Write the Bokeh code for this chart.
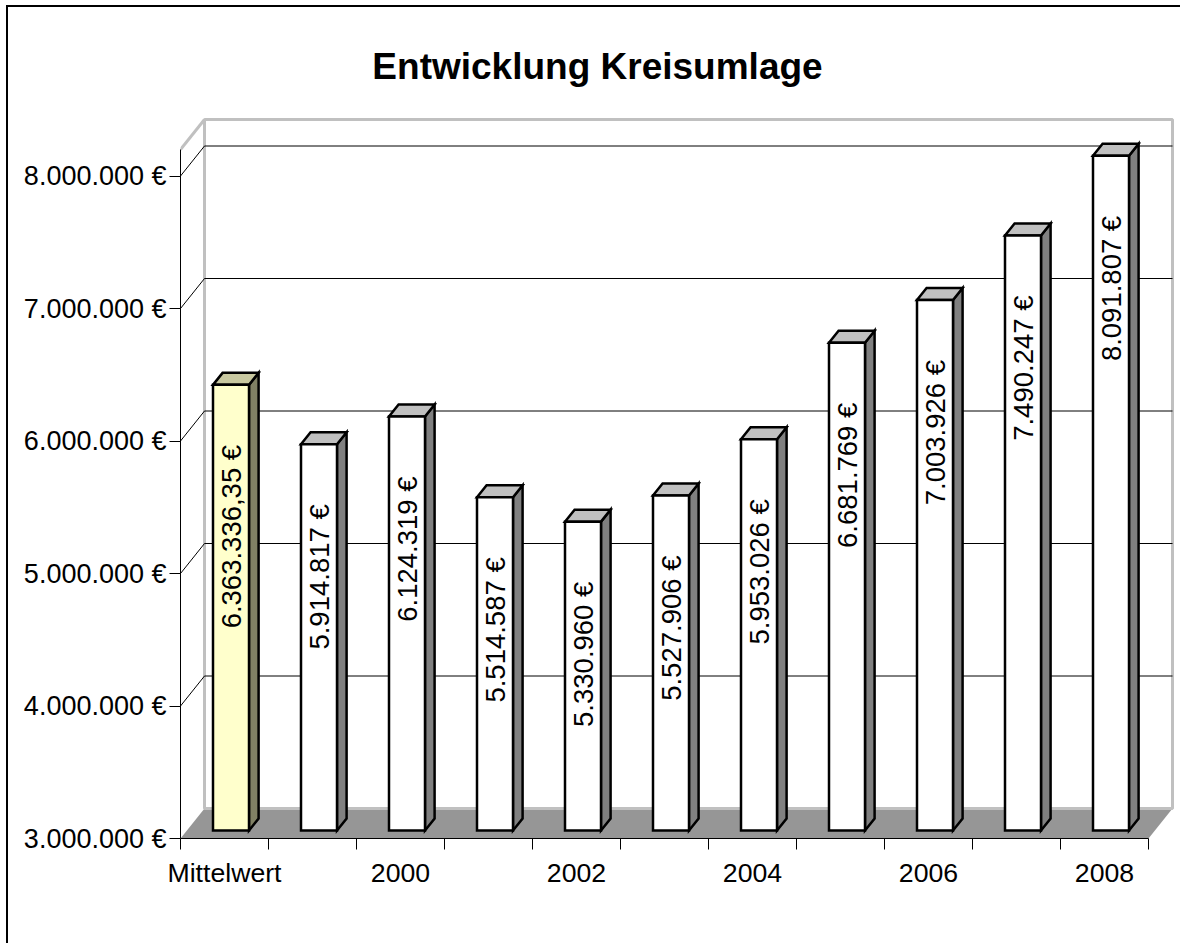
import math
from bokeh.plotting import figure
from bokeh.layouts import column
from bokeh.models import FixedTicker, CustomJSTickFormatter, Label, Range1d, LinearAxis, ColumnDataSource
from bokeh.core.properties import value
from bokeh.embed import file_html
from bokeh.resources import INLINE

# ---------------- data ----------------
categories = ["Mittelwert", "1999", "2000", "2001", "2002", "2003",
              "2004", "2005", "2006", "2007", "2008"]
values = [6363336.35, 5914817, 6124319, 5514587, 5330960, 5527906,
          5953026, 6681769, 7003926, 7490247, 8091807]
x_tick_labels = ["Mittelwert", "", "2000", "", "2002", "", "2004", "", "2006", "", "2008"]
y_ticks = [3000000, 4000000, 5000000, 6000000, 7000000, 8000000]
y_min = 3000000
wall_top = 8200000
title_text = "Entwicklung Kreisumlage"

# ---------------- layout ----------------
CX0, CY0 = 8, 7
W, H = 1172, 936
FRAME_LEFT_PAGE, FRAME_RIGHT_PAGE = 180, 1176
FRAME_TOP_PAGE, FRAME_BOTTOM_PAGE = CY0, 838
BL = FRAME_LEFT_PAGE - CX0
BR = (CX0 + W) - FRAME_RIGHT_PAGE
BT = FRAME_TOP_PAGE - CY0
BB = (CY0 + H) - FRAME_BOTTOM_PAGE
FW = W - BL - BR
FH = H - BT - BB
PX_PER_CAT = 88.0
PX_PER_Y = 132.5 / 1e6
n = len(categories)
x_end = FW / PX_PER_CAT
y_end = y_min + FH / PX_PER_Y


def dx(px):
    return px / PX_PER_CAT


def dy(px):
    return px / PX_PER_Y


FONT = "Liberation Sans"
DXW, DYW = dx(24), dy(30)
OX, OY = dx(6.5), dy(8)
BW = dx(36)
DXB, DYB = dx(9.6), dy(12)

p = figure(width=W, height=H, x_range=Range1d(0, x_end), y_range=Range1d(y_min, y_end),
           output_backend="svg", toolbar_location=None,
           min_border_left=BL, min_border_right=BR, min_border_top=BT, min_border_bottom=BB,
           x_axis_type=None, y_axis_type=None)
p.outline_line_color = None
p.background_fill_color = "white"
p.border_fill_color = "white"

# floor
p.patch(x=[0, n, n + DXW, DXW], y=[y_min, y_min, y_min + DYW, y_min + DYW],
        fill_color="#969696", line_color=None)
# back wall
p.quad(left=[DXW], right=[n + DXW], bottom=[y_min + DYW], top=[wall_top + DYW],
       fill_color="white", fill_alpha=0.0, line_color="#C0C0C0", line_width=3)
p.line(x=[0, DXW], y=[wall_top, wall_top + DYW], line_color="#C0C0C0", line_width=3)

gv = y_ticks[1:]
p.segment(x0=[DXW] * len(gv), x1=[n + DXW] * len(gv),
          y0=[v + DYW for v in gv], y1=[v + DYW for v in gv],
          line_color="black", line_width=1)
p.segment(x0=[0] * len(gv), x1=[DXW] * len(gv),
          y0=gv, y1=[v + DYW for v in gv], line_color="black", line_width=1)

front_fill, top_fill, side_fill = [], [], []
left, right, bottom, top = [], [], [], []
top_xs, top_ys, side_xs, side_ys = [], [], [], []
for i, v in enumerate(values):
    c = i + 0.5 + OX
    l, r = c - BW / 2, c + BW / 2
    b, t = y_min + OY, v + OY
    left.append(l); right.append(r); bottom.append(b); top.append(t)
    top_xs.append([l, r, r + DXB, l + DXB])
    top_ys.append([t, t, t + DYB, t + DYB])
    side_xs.append([r, r + DXB, r + DXB, r])
    side_ys.append([b, b + DYB, t + DYB, t])
    if i == 0:
        front_fill.append("#FFFFCC"); top_fill.append("#C8C8A0"); side_fill.append("#808064")
    else:
        front_fill.append("#FFFFFF"); top_fill.append("#C0C0C0"); side_fill.append("#808080")

p.patches(xs=side_xs, ys=side_ys, fill_color=side_fill, line_color="black", line_width=2.5,
          line_join="miter")
p.patches(xs=top_xs, ys=top_ys, fill_color=top_fill, line_color="black", line_width=2.5,
          line_join="miter")
p.quad(left=left, right=right, bottom=bottom, top=top, fill_color=front_fill,
       line_color="black", line_width=2.5, line_join="miter")


def fmt(v):
    if abs(v - round(v)) > 1e-9:
        s = f"{v:,.2f}"
        s = s.replace(",", "X").replace(".", ",").replace("X", ".")
    else:
        s = f"{int(round(v)):,}".replace(",", ".")
    return s + " €"


lab_src = ColumnDataSource(dict(
    x=[i + 0.5 + OX for i in range(n)],
    y=[v + OY - dy(60) for v in values],
    text=[fmt(v) for v in values]))
p.text(x="x", y="y", text="text", source=lab_src, angle=math.pi / 2,
       text_align="right", text_baseline="middle", text_color="black",
       text_font=value(FONT), text_font_size="27.5px")

yaxis = LinearAxis(ticker=FixedTicker(ticks=y_ticks),
                   formatter=CustomJSTickFormatter(code=r"""
const s = Math.round(tick).toString().replace(/\B(?=(\d{3})+(?!\d))/g, '.');
return s + ' €';"""),
                   bounds=(y_min, wall_top))
yaxis.axis_line_color = "black"
yaxis.axis_line_width = 1
yaxis.major_tick_out = 11
yaxis.major_tick_in = 0
yaxis.major_tick_line_color = "black"
yaxis.minor_tick_line_color = None
yaxis.major_label_text_font = FONT
yaxis.major_label_text_font_size = "27px"
yaxis.major_label_text_color = "black"
yaxis.major_label_standoff = 3
p.add_layout(yaxis, "left")

xaxis = LinearAxis(ticker=FixedTicker(ticks=[i + 0.5 for i in range(n)],
                                      minor_ticks=list(range(n + 1))),
                   formatter=CustomJSTickFormatter(args=dict(labels=x_tick_labels),
                                                   code="return labels[Math.round(tick - 0.5)] || '';"),
                   bounds=(0, n))
xaxis.axis_line_color = "black"
xaxis.axis_line_width = 1
xaxis.major_tick_line_color = None
xaxis.major_tick_out = 11
xaxis.major_tick_in = 0
xaxis.minor_tick_out = 11
xaxis.minor_tick_in = 0
xaxis.minor_tick_line_color = "black"
xaxis.major_label_text_font = FONT
xaxis.major_label_text_font_size = "20pt"
xaxis.major_label_text_color = "black"
xaxis.major_label_standoff = 8
p.add_layout(xaxis, "below")

p.add_layout(Label(x=dx(597 - FRAME_LEFT_PAGE), y=y_min + dy(FRAME_BOTTOM_PAGE - 66),
                   text=title_text,
                   text_font=FONT, text_font_size="37px", text_font_style="bold",
                   text_align="center", text_baseline="alphabetic", text_color="black"))

layout = column(p, styles={"margin-left": "6px", "margin-top": "5px",
                           "border-left": "2px solid #000000",
                           "border-top": "2px solid #000000"})

open("out.html", "w").write(file_html(layout, INLINE))
